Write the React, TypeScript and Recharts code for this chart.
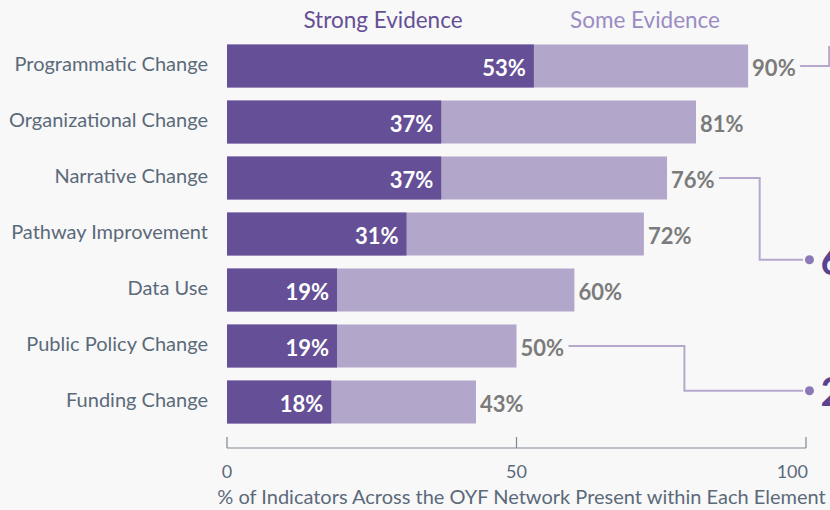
import React from 'react';
import { BarChart, Bar, XAxis, YAxis, LabelList, Label } from 'recharts';

const categories = [
  'Programmatic Change',
  'Organizational Change',
  'Narrative Change',
  'Pathway Improvement',
  'Data Use',
  'Public Policy Change',
  'Funding Change',
];
const strongValues = [53, 37, 37, 31, 19, 19, 18];
const someValues = [90, 81, 76, 72, 60, 50, 43];
const xTicks = [0, 50, 100];
const seriesNames = ['Strong Evidence', 'Some Evidence'];
const axisTitle = '% of Indicators Across the OYF Network Present within Each Element';
// callouts (partially visible at the right edge of the original)
const calloutRows = ['Programmatic Change', 'Narrative Change', 'Public Policy Change'];
const calloutTexts = ['', '6', '2'];

const data = categories.map((name, i) => ({ name, strong: strongValues[i], some: someValues[i] }));

const DARK = '#654f96';
const LIGHT = '#b2a6cb';
const LINE = '#b4a9cd';
const GRAY_LABEL = '#7b7b7b';
const SLATE = '#5b6a7a';
const FONT = 'Lato, sans-serif';

const XTick = (props: any) => {
  const { x, y, payload, index } = props;
  const last = payload.value === xTicks[xTicks.length - 1] || index === xTicks.length - 1;
  return (
    <g>
      <line x1={x} x2={x} y1={y} y2={y - 11} stroke="#7d8794" strokeWidth={1.2} />
      <text
        x={last ? x + 2 : x}
        y={y + 30}
        textAnchor={last ? 'end' : 'middle'}
        fill={SLATE}
        fontSize={18}
        fontFamily={FONT}
      >
        {payload.value}
      </text>
    </g>
  );
};

const YTick = (props: any) => {
  const { x, y, payload } = props;
  return (
    <text x={x} y={y - 3} textAnchor="end" dominantBaseline="central" fill={SLATE} fontSize={20} fontFamily={FONT}>
      {payload.value}
    </text>
  );
};

const renderStrong = (props: any) => {
  const { x, y, width, height, value } = props;
  return (
    <text
      x={x + width - 8}
      y={y + height / 2 + 1}
      textAnchor="end"
      dominantBaseline="central"
      fill="#ffffff"
      fontWeight={700}
      fontSize={22}
      fontFamily={FONT}
    >
      {value}%
    </text>
  );
};

const renderSome = (props: any) => {
  const { x, y, width, height, value } = props;
  let index = props.index;
  if (index === undefined || index === null) index = someValues.indexOf(value);
  const name = categories[index];
  const cy = y + height / 2;
  const k = width / value; // pixels per unit from the bar scale
  const px = (v: number) => x + v * k;
  const band = (height * 56) / 43;
  const textStart = x + width + 4;
  const lineStart = textStart + 48;
  const ci = calloutRows.indexOf(name);
  let callout: React.ReactNode = null;
  if (ci === 0) {
    callout = (
      <path d={`M${lineStart},${cy} H${px(104)} V${cy - 20}`} fill="none" stroke={LINE} strokeWidth={2} />
    );
  } else if (ci > 0) {
    const elbow = ci === 1 ? 92 : 79;
    const drop = ci === 1 ? 1.46 : 0.8;
    const ty = cy + band * drop;
    callout = (
      <g>
        <path d={`M${lineStart},${cy} H${px(elbow)} V${ty} H${px(99.5)}`} fill="none" stroke={LINE} strokeWidth={2} />
        <circle cx={px(100.6)} cy={ty} r={4.5} fill="#8a79b6" />
        <text
          x={px(102.5)}
          y={ty}
          dominantBaseline="central"
          fill="#5a4390"
          fontWeight={700}
          fontSize={40}
          fontFamily={FONT}
        >
          {calloutTexts[ci]}
        </text>
      </g>
    );
  }
  return (
    <g>
      {callout}
      <text
        x={textStart}
        y={cy + 1}
        textAnchor="start"
        dominantBaseline="central"
        fill={GRAY_LABEL}
        fontWeight={700}
        fontSize={22}
        fontFamily={FONT}
      >
        {value}%
      </text>
    </g>
  );
};

export default function App() {
  return (
    <div style={{ position: 'relative', width: 830, height: 510, background: '#f8f8f8', fontFamily: FONT, overflow: 'hidden' }}>
      <style>{`body{margin:0;}`}</style>
      <div style={{ position: 'absolute', left: 383, top: 19, transform: 'translate(-50%,-50%)', color: DARK, fontSize: 22.5, whiteSpace: 'nowrap' }}>
        {seriesNames[0]}
      </div>
      <div style={{ position: 'absolute', left: 645, top: 19, transform: 'translate(-50%,-50%)', color: '#9a8cc3', fontSize: 22.5, whiteSpace: 'nowrap' }}>
        {seriesNames[1]}
      </div>
      <BarChart
        width={830}
        height={510}
        data={data}
        layout="vertical"
        margin={{ top: 37.5, right: 24, bottom: 0, left: 0 }}
        barSize={43}
        barGap={-43}
        style={{ position: 'absolute', left: 0, top: 0 }}
      >
        <XAxis
          type="number"
          domain={[0, 100]}
          ticks={xTicks}
          interval={0}
          height={62}
          axisLine={{ stroke: '#7d8794', strokeWidth: 1.2 }}
          tickLine={false}
          tickSize={0}
          tickMargin={0}
          tick={<XTick />}
        >
          <Label value={axisTitle} position="insideBottom" offset={6} dx={5} fill={SLATE} fontSize={20} fontFamily={FONT} />
        </XAxis>
        <YAxis
          type="category"
          dataKey="name"
          width={227}
          axisLine={false}
          tickLine={false}
          tickMargin={13}
          interval={0}
          padding={{ top: 0, bottom: 18.5 }}
          tick={<YTick />}
        />
        <Bar dataKey="some" fill={LIGHT} isAnimationActive={false}>
          <LabelList dataKey="some" content={renderSome} />
        </Bar>
        <Bar dataKey="strong" fill={DARK} isAnimationActive={false}>
          <LabelList dataKey="strong" content={renderStrong} />
        </Bar>
      </BarChart>
    </div>
  );
}
